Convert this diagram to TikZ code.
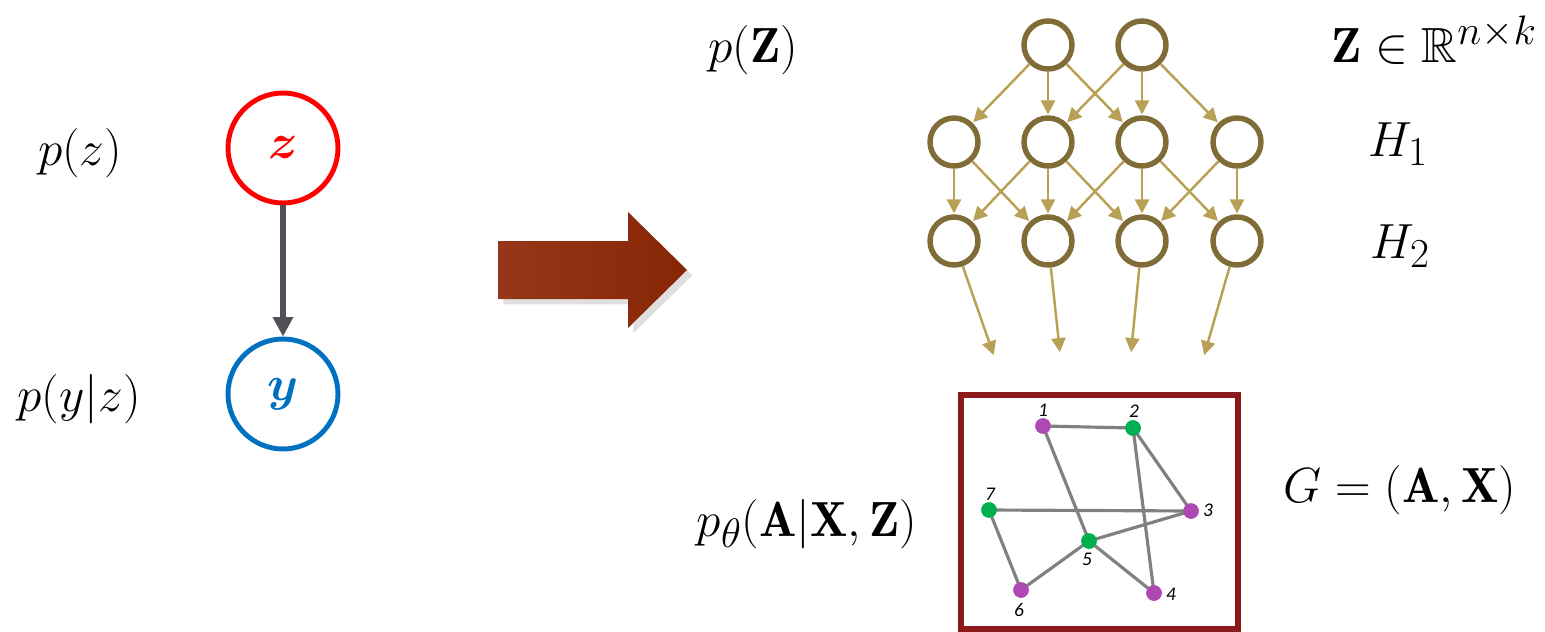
\documentclass[tikz,border=0pt]{standalone}
\usepackage{amsmath,amssymb}
\usepackage{graphicx}
\usepackage{fontspec}
\newfontfamily\lblfont{Carlito}
\usetikzlibrary{arrows.meta,shadows}
\newcommand{\mylbl}[1]{\scalebox{1.13}{\Huge$#1$}}
\definecolor{zred}{RGB}{255,0,0}
\definecolor{yblue}{RGB}{0,112,192}
\definecolor{arrgray}{RGB}{80,80,88}
\definecolor{nnstroke}{RGB}{128,108,55}
\definecolor{nnarrow}{RGB}{184,160,85}
\definecolor{boxred}{RGB}{140,26,26}
\definecolor{gmag}{RGB}{176,72,180}
\definecolor{ggreen}{RGB}{0,176,80}
\definecolor{ggray}{RGB}{128,128,128}
\definecolor{bigA}{RGB}{150,55,25}
\definecolor{bigC}{RGB}{135,38,5}
\tikzset{
  mathlbl/.style={inner sep=0pt},
  pgmnode/.style={circle, line width=2.8pt, minimum size=2.2cm, inner sep=0pt, fill=white},
  nnnode/.style={circle, draw=nnstroke, line width=3.1pt, minimum size=0.96cm, inner sep=0pt, fill=white},
  nnedge/.style={draw=nnarrow, line width=1.4pt, -{Triangle[length=8pt,width=8pt]}, shorten >=0.5pt},
  gnode/.style={circle, minimum size=0.31cm, inner sep=0pt},
  gedge/.style={draw=ggray, line width=1.8pt},
  glbl/.style={font=\lblfont\itshape\fontsize{11}{13}\selectfont, inner sep=0pt}
}
\begin{document}
\begin{tikzpicture}[x=0.02cm,y=-0.02cm]
\useasboundingbox (0,0) rectangle (1545,632);
% left PGM
\node[pgmnode, draw=zred] (z) at (283,148) {\mylbl{\color{zred}\boldsymbol{z}}};
\node[pgmnode, draw=yblue] (y) at (283,394) {\mylbl{\color{yblue}\boldsymbol{y}}};
\draw[draw=arrgray, line width=2.9pt, -{Triangle[length=11pt,width=11pt]}] (z) -- (y);
\node[mathlbl] (pz) at (80,153) {\mylbl{p(z)}};
\node[mathlbl] (pyz) at (79,399) {\mylbl{p(y|z)}};
% big arrow
\path[left color=bigA, right color=bigC, drop shadow={opacity=0.25, shadow xshift=3pt, shadow yshift=-3pt}]
  (498,241) -- (628,241) -- (628,212) -- (687,270) -- (628,328) -- (628,299) -- (498,299) -- cycle;
% neural net
\node[nnnode] (t1) at (1048,45) {};
\node[nnnode] (t2) at (1142,45) {};
\node[nnnode] (a1) at (954,142) {};
\node[nnnode] (a2) at (1048,142) {};
\node[nnnode] (a3) at (1142,142) {};
\node[nnnode] (a4) at (1237,142) {};
\node[nnnode] (b1) at (954,241) {};
\node[nnnode] (b2) at (1048,241) {};
\node[nnnode] (b3) at (1142,241) {};
\node[nnnode] (b4) at (1237,241) {};
\foreach \s/\t in {t1/a1,t1/a2,t1/a3,t2/a2,t2/a3,t2/a4,
  a1/b1,a1/b2,a2/b1,a2/b2,a2/b3,a3/b2,a3/b3,a3/b4,a4/b3,a4/b4}
  \draw[nnedge] (\s) -- (\t);
\coordinate (o1) at (994,356);
\coordinate (o2) at (1060,353);
\coordinate (o3) at (1131,353);
\coordinate (o4) at (1204,356);
\draw[nnedge] (b1) -- (o1);
\draw[nnedge] (b2) -- (o2);
\draw[nnedge] (b3) -- (o3);
\draw[nnedge] (b4) -- (o4);
% labels right
\node[mathlbl] (pZ) at (753,50) {\mylbl{p(\mathbf{Z})}};
\node[mathlbl] (Zin) at (1434,40) {\mylbl{\mathbf{Z}\in\mathbb{R}^{n\times k}}};
\node[mathlbl] (H1) at (1398,144) {\mylbl{H_1}};
\node[mathlbl] (H2) at (1400,246) {\mylbl{H_2}};
\node[mathlbl] (pth) at (807,524) {\mylbl{p_\theta(\mathbf{A}|\mathbf{X},\mathbf{Z})}};
\node[mathlbl] (G) at (1400,490) {\mylbl{G=(\mathbf{A},\mathbf{X})}};
% graph box
\draw[draw=boxred, line width=3pt] (961,395) rectangle (1238,629);
\node[gnode, fill=gmag] (g1) at (1043,426) {};
\node[gnode, fill=ggreen] (g2) at (1133,428) {};
\node[gnode, fill=gmag] (g3) at (1191,511) {};
\node[gnode, fill=gmag] (g4) at (1154,593) {};
\node[gnode, fill=ggreen] (g5) at (1089,541) {};
\node[gnode, fill=gmag] (g6) at (1021,590) {};
\node[gnode, fill=ggreen] (g7) at (989,510) {};
\foreach \s/\t in {g1/g2,g1/g5,g2/g3,g2/g4,g7/g3,g3/g5,g5/g4,g5/g6,g6/g7}
  \draw[gedge] (\s.center) -- (\t.center);
\node[gnode, fill=gmag] at (g1) {};
\node[gnode, fill=ggreen] at (g2) {};
\node[gnode, fill=gmag] at (g3) {};
\node[gnode, fill=gmag] at (g4) {};
\node[gnode, fill=ggreen] at (g5) {};
\node[gnode, fill=gmag] at (g6) {};
\node[gnode, fill=ggreen] at (g7) {};
\node[glbl] (l1) at (1043,410) {1};
\node[glbl] (l2) at (1134,411) {2};
\node[glbl] (l3) at (1208,510) {3};
\node[glbl] (l4) at (1171,594) {4};
\node[glbl] (l5) at (1087,559) {5};
\node[glbl] (l6) at (1019,610) {6};
\node[glbl] (l7) at (990,494) {7};
\end{tikzpicture}
\end{document}
